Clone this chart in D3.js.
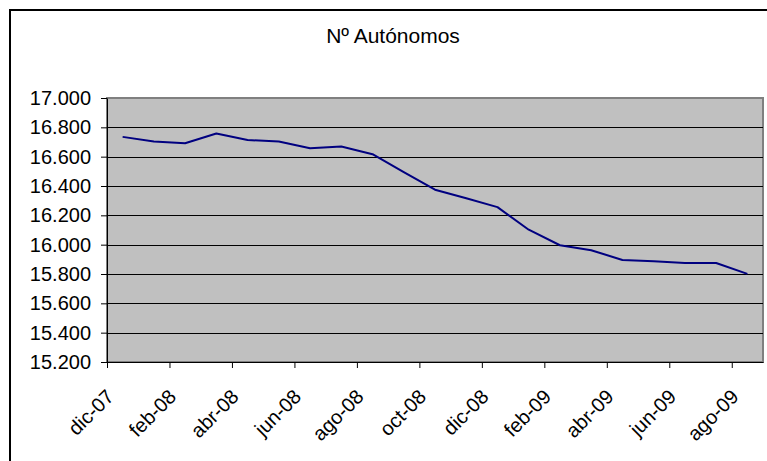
<!DOCTYPE html>
<html>
<head>
<meta charset="utf-8">
<script src="https://cdn.jsdelivr.net/npm/d3@7"></script>
<style>
    body { margin: 0; background: #fff; }
    svg text { font-family: "Liberation Sans", Arial, sans-serif; fill: #000; }
</style>
</head>
<body>
<svg id="chart" width="767" height="461"></svg>
<script>
// months shown on the x axis (one point per month)
var months = ["dic-07", "ene-08", "feb-08", "mar-08", "abr-08", "may-08", "jun-08", "jul-08",
    "ago-08", "sep-08", "oct-08", "nov-08", "dic-08", "ene-09", "feb-09", "mar-09",
    "abr-09", "may-09", "jun-09", "jul-09", "ago-09"];

// Nº Autónomos
var autonomos = [16735, 16703, 16692, 16758, 16714, 16703, 16658, 16669, 16617, 16495,
    16375, 16316, 16256, 16102, 15996, 15962, 15896, 15887, 15875, 15875, 15801];

var yTicks = [15200, 15400, 15600, 15800, 16000, 16200, 16400, 16600, 16800, 17000];

var chartTitle = "Nº Autónomos";

var es = d3.formatLocale({decimal: ",", thousands: ".", grouping: [3], currency: ["", " €"]});
var fmt = es.format(",.0f");

var svg = d3.select("#chart"),
    margin = {top: 98, left: 107, right: 4, bottom: 99},
    width = +svg.attr("width") - margin.left - margin.right,
    height = +svg.attr("height") - margin.top - margin.bottom;

// outer chart frame
svg.append("rect")
    .attr("x", 10).attr("y", 10)
    .attr("width", 820).attr("height", 520)
    .attr("fill", "#fff")
    .attr("stroke", "#000")
    .attr("stroke-width", 2);

svg.append("text")
    .attr("x", 393)
    .attr("y", 43)
    .attr("text-anchor", "middle")
    .attr("font-size", "21px")
    .text(chartTitle);

var g = svg.append("g").attr("transform", "translate(" + margin.left + "," + margin.top + ")");

// x: category slots, ticks at slot boundaries
var x = d3.scaleLinear().domain([0, months.length]).range([0, width]);
var y = d3.scaleLinear().domain([15200, 17000]).range([height, 0]);

// plot area
g.append("rect")
    .attr("width", width)
    .attr("height", height)
    .attr("fill", "#c0c0c0")
    .attr("stroke", "#808080")
    .attr("stroke-width", 2);

// gridlines
g.append("g")
    .selectAll("line")
    .data(yTicks.slice(1, -1))
    .enter().append("line")
    .attr("x1", 0)
    .attr("x2", width)
    .attr("y1", function (d) { return Math.round(y(d)) + 0.5; })
    .attr("y2", function (d) { return Math.round(y(d)) + 0.5; })
    .attr("stroke", "#000")
    .attr("stroke-width", 1);

// the series
var line = d3.line()
    .x(function (d, i) { return x(i + 0.5); })
    .y(function (d) { return y(d); });

g.append("path")
    .datum(autonomos)
    .attr("d", line)
    .attr("fill", "none")
    .attr("stroke", "#000080")
    .attr("stroke-width", 2)
    .attr("stroke-linejoin", "round");

// y axis
var yAxis = g.append("g")
    .call(d3.axisLeft(y)
        .tickValues(yTicks)
        .tickSize(6)
        .tickSizeOuter(0)
        .tickPadding(10)
        .tickFormat(fmt));
yAxis.selectAll("text").attr("font-size", "20px").attr("font-family", null);
yAxis.selectAll("line, path").attr("stroke", "#000");

// x axis, a tick every second month
var xAxis = g.append("g")
    .attr("transform", "translate(0," + height + ")")
    .call(d3.axisBottom(x)
        .tickValues(d3.range(0, months.length, 2))
        .tickSize(6)
        .tickSizeOuter(0)
        .tickFormat(function (i) { return months[i]; }));
xAxis.selectAll("line, path").attr("stroke", "#000");
xAxis.selectAll("text")
    .attr("font-size", "20px")
    .attr("font-family", null)
    .attr("y", null)
    .attr("dy", null)
    .attr("text-anchor", "end")
    .attr("transform", "translate(7.5,36) rotate(-45)");
</script>
</body>
</html>
